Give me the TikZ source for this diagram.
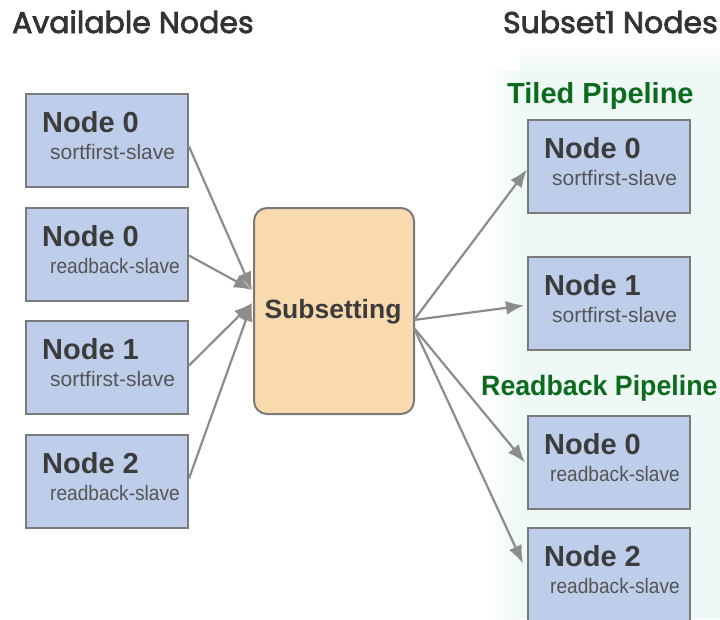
\documentclass[tikz,border=0pt]{standalone}
\usepackage{fontspec}
\setmainfont{Liberation Sans}
\newfontfamily\hdrfont{Poppins}[FakeBold=2.6]
\usetikzlibrary{arrows.meta,calc}
\definecolor{boxblue}{HTML}{BDCDEA}
\definecolor{boxline}{HTML}{7A7A7A}
\definecolor{subfill}{HTML}{F8DAAE}
\definecolor{arrowgray}{HTML}{8C8C8C}
\definecolor{pipegreen}{HTML}{0D6B1E}
\definecolor{mint}{HTML}{EEF9F5}
\definecolor{nodetext}{HTML}{3C3C3C}
\definecolor{roletext}{HTML}{555555}
\definecolor{headtext}{HTML}{333333}
\tikzset{
  nodebox/.style={draw=boxline, line width=2pt, fill=boxblue, minimum width=162pt, minimum height=93pt, inner sep=0pt},
  subbox/.style={draw=boxline, line width=2pt, fill=subfill, rounded corners=13pt, minimum width=160pt, minimum height=206pt, inner sep=0pt},
  nodename/.style={anchor=base west, inner sep=0pt, text=nodetext, font=\fontsize{29}{31}\selectfont\bfseries},
  rolename/.style={anchor=base west, inner sep=0pt, text=roletext, font=\fontsize{21}{23}\selectfont},
  heading/.style={inner sep=0pt, text=headtext, font=\hdrfont\fontsize{30}{32}\selectfont},
  pipeline/.style={anchor=base west, inner sep=0pt, text=pipegreen, font=\fontsize{29}{31}\selectfont\bfseries},
  link/.style={draw=arrowgray, line width=2.2pt, -{Latex[length=18pt,width=14pt]}}
}
% a node box with its name and role; #5 is the role's left inset
\newcommand{\slavebox}[5]{%
  \node[nodebox, anchor=north west] (#1) at (#2) {};
  \node[nodename] (#1n) at ($(#1.north west)+(17pt,-39pt)$) {#3};
  \node[rolename] (#1r) at ($(#1.north west)+(#5pt,-66pt)$) {#4};
}
\newcommand{\rbslave}{\scalebox{0.91}[1]{readback-slave}}
\begin{document}
\begin{tikzpicture}[x=1pt,y=-1pt]
  \useasboundingbox (0,0) rectangle (720,619);
  % pale backdrop behind the subset column
  \fill[mint] (520,70) rectangle (720,619);
  \shade[left color=white, right color=mint] (485,70) rectangle (520,619);
  \shade[top color=white, bottom color=mint] (520,45) rectangle (720,70);
  % headings
  \node[heading, anchor=base west] (hAvail) at (12,33) {Available Nodes};
  \node[heading, anchor=base east] (hSub) at (718,33) {Subset1 Nodes};
  \node[pipeline] (hTiled) at (507,103) {Tiled Pipeline};
  \node[pipeline, font=\fontsize{28}{30}\selectfont\bfseries] (hRead) at (481,395) {\scalebox{0.955}[1]{Readback Pipeline}};
  % available nodes
  \slavebox{l1}{25,93}{Node 0}{sortfirst-slave}{25}
  \slavebox{l2}{25,207}{Node 0}{\rbslave}{25}
  \slavebox{l3}{25,320}{Node 1}{sortfirst-slave}{25}
  \slavebox{l4}{25,434}{Node 2}{\rbslave}{25}
  % subsetting step
  \node[subbox, anchor=north west] (sub) at (253,207) {};
  \node[inner sep=0pt, text=nodetext, font=\fontsize{26.5}{28}\selectfont\bfseries] (subt) at (333,312) {Subsetting};
  % subset nodes
  \slavebox{r1}{527,119}{Node 0}{sortfirst-slave}{25}
  \slavebox{r2}{527,256}{Node 1}{sortfirst-slave}{25}
  \slavebox{r3}{527,415}{Node 0}{\rbslave}{23}
  \slavebox{r4}{527,527}{Node 2}{\rbslave}{23}
  % connector meeting points on the subsetting box
  \coordinate (inA) at (252,290);
  \coordinate (inB) at (252,303);
  \coordinate (outA) at (414,320);
  \coordinate (outB) at (414,328);
  % incoming links
  \draw[link] ($(l1.east)+(0,6)$) -- (inA);
  \draw[link] ($(l2.east)+(0,1)$) -- (inA);
  \draw[link] ($(l3.east)+(0,-2)$) -- (inB);
  \draw[link] ($(l4.east)+(0,-3)$) -- (inB);
  % outgoing links
  \draw[link] (outA) -- ($(r1.west)+(0,3)$);
  \draw[link] (outA) -- ($(r2.west)+(-3,2)$);
  \draw[link] (outB) -- ($(r3.west)+(-2,0)$);
  \draw[link] (outB) -- ($(r4.west)+(-4,-11)$);
\end{tikzpicture}
\end{document}
